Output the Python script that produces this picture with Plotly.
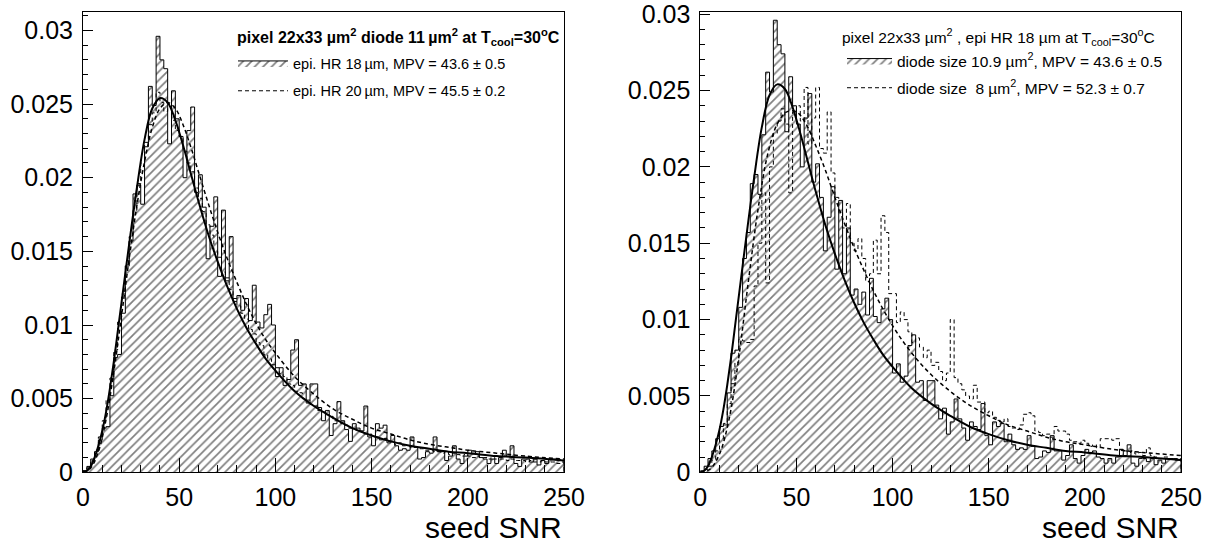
import numpy as np
import plotly.graph_objects as go

# ---------------- data ----------------
bin_width = 2.0  # seed SNR bin width, 125 bins over 0..250

# epi HR 18 um, diode 10.9/11 um^2 (same histogram in both panels)
h18 = [0.0001, 0.0004, 0.0009, 0.0014, 0.0022, 0.0030, 0.0031, 0.0052, 0.0078, 0.0080,
       0.0108, 0.0140, 0.0157, 0.0189, 0.0195, 0.0182, 0.0221, 0.0262, 0.0249, 0.0296,
       0.0280, 0.0274, 0.0223, 0.0259, 0.0240, 0.0228, 0.0200, 0.0232, 0.0248, 0.0190,
       0.0202, 0.0180, 0.0145, 0.0167, 0.0187, 0.0133, 0.0178, 0.0130, 0.0160, 0.0116,
       0.0120, 0.0110, 0.0118, 0.0103, 0.0127, 0.0102, 0.0098, 0.0107, 0.0114, 0.0100,
       0.0065, 0.0071, 0.0059, 0.0063, 0.0083, 0.0090, 0.0059, 0.0060, 0.0047, 0.0060,
       0.0060, 0.0044, 0.0035, 0.0042, 0.0025, 0.0033, 0.0048, 0.0035, 0.0029, 0.0021,
       0.0033, 0.0030, 0.0028, 0.0045, 0.0024, 0.0018, 0.0033, 0.0030, 0.0032, 0.0020,
       0.0025, 0.0018, 0.0015, 0.0016, 0.0015, 0.0024, 0.0017, 0.0009, 0.0010, 0.0014,
       0.0013, 0.0024, 0.0014, 0.0014, 0.0008, 0.0011, 0.0018, 0.0009, 0.0006, 0.0011,
       0.0015, 0.0013, 0.0014, 0.0010, 0.0009, 0.0006, 0.0009, 0.0006, 0.0010, 0.0015,
       0.0011, 0.0018, 0.0006, 0.0004, 0.0009, 0.0009, 0.0007, 0.0009, 0.0005, 0.0008,
       0.0006, 0.0009, 0.0009, 0.0009, 0.0008]

# epi HR 20 um (left panel, dashed)
h20 = [0.0001, 0.0003, 0.0008, 0.0015, 0.0024, 0.0035, 0.0049, 0.0064, 0.0083, 0.0102,
       0.0121, 0.0141, 0.0160, 0.0178, 0.0196, 0.0210, 0.0224, 0.0236, 0.0244, 0.0258,
       0.0251, 0.0245, 0.0247, 0.0239, 0.0232, 0.0228, 0.0218, 0.0210, 0.0204, 0.0193,
       0.0186, 0.0177, 0.0168, 0.0161, 0.0150, 0.0146, 0.0136, 0.0132, 0.0124, 0.0118,
       0.0113, 0.0108, 0.0104, 0.0097, 0.0094, 0.0088, 0.0086, 0.0080, 0.0077, 0.0073,
       0.0071, 0.0067, 0.0065, 0.0060, 0.0059, 0.0055, 0.0054, 0.0050, 0.0049, 0.0046,
       0.0045, 0.0042, 0.0041, 0.0039, 0.0038, 0.0035, 0.0035, 0.0033, 0.0032, 0.0030,
       0.0030, 0.0028, 0.0028, 0.0026, 0.0026, 0.0024, 0.0024, 0.0022, 0.0023, 0.0021,
       0.0021, 0.0019, 0.0020, 0.0018, 0.0018, 0.0017, 0.0017, 0.0016, 0.0016, 0.0015,
       0.0015, 0.0014, 0.0014, 0.0013, 0.0014, 0.0012, 0.0013, 0.0012, 0.0011, 0.0012,
       0.0011, 0.0010, 0.0011, 0.0010, 0.0010, 0.0009, 0.0010, 0.0009, 0.0009, 0.0009,
       0.0008, 0.0009, 0.0008, 0.0008, 0.0008, 0.0007, 0.0008, 0.0007, 0.0007, 0.0008,
       0.0007, 0.0007, 0.0007, 0.0006, 0.0007]

# diode 8 um^2 (right panel, dashed)
h8 = [0.0000, 0.0002, 0.0004, 0.0008, 0.0014, 0.0022, 0.0032, 0.0045, 0.0058, 0.0072,
      0.0087, 0.0086, 0.0085, 0.0087, 0.0122, 0.0150, 0.0183, 0.0124, 0.0200, 0.0222,
      0.0230, 0.0238, 0.0228, 0.0183, 0.0236, 0.0240, 0.0230, 0.0252, 0.0215, 0.0232,
      0.0252, 0.0212, 0.0209, 0.0236, 0.0196, 0.0180, 0.0170, 0.0160, 0.0176, 0.0150,
      0.0145, 0.0153, 0.0140, 0.0125, 0.0130, 0.0152, 0.0130, 0.0168, 0.0157, 0.0117,
      0.0117, 0.0098, 0.0105, 0.0100, 0.0092, 0.0085, 0.0088, 0.0082, 0.0075, 0.0080,
      0.0070, 0.0072, 0.0066, 0.0060, 0.0065, 0.0100, 0.0062, 0.0058, 0.0054, 0.0050,
      0.0048, 0.0057, 0.0046, 0.0046, 0.0039, 0.0040, 0.0036, 0.0034, 0.0033, 0.0035,
      0.0030, 0.0029, 0.0028, 0.0031, 0.0038, 0.0039, 0.0037, 0.0027, 0.0026, 0.0024,
      0.0025, 0.0023, 0.0030, 0.0027, 0.0027, 0.0025, 0.0021, 0.0020, 0.0019, 0.0021,
      0.0019, 0.0017, 0.0018, 0.0016, 0.0022, 0.0022, 0.0022, 0.0021, 0.0022, 0.0015,
      0.0014, 0.0013, 0.0014, 0.0012, 0.0013, 0.0011, 0.0016, 0.0011, 0.0010, 0.0009,
      0.0010, 0.0010, 0.0009, 0.0008, 0.0009]

# fitted curves
fit18_x = [0, 2, 4, 6, 8, 10, 12, 14, 16, 18, 20, 24, 28, 32, 36, 40, 44, 48, 52, 56, 60,
           65, 70, 75, 80, 85, 90, 95, 100, 110, 120, 130, 140, 150, 160, 170, 180, 190,
           200, 215, 230, 250]
fit18_y = [0.0000, 0.0001, 0.0004, 0.0010, 0.0018, 0.0028, 0.0041, 0.0057, 0.0075, 0.0095,
           0.0115, 0.0155, 0.0193, 0.0226, 0.0247, 0.0254, 0.0251, 0.0239, 0.0222, 0.0203,
           0.0184, 0.0162, 0.0143, 0.0126, 0.0111, 0.0098, 0.0087, 0.0077, 0.0069, 0.0055,
           0.0045, 0.0037, 0.0030, 0.0025, 0.0021, 0.0018, 0.0016, 0.0014, 0.0013, 0.0011,
           0.0010, 0.0008]

fit20_x = [0, 4, 8, 12, 16, 20, 24, 28, 32, 36, 40, 44, 48, 52, 56, 60, 65, 70, 75, 80, 85,
           90, 95, 100, 110, 120, 130, 140, 150, 160, 170, 180, 190, 200, 215, 230, 250]
fit20_y = [0.0000, 0.0003, 0.0014, 0.0036, 0.0068, 0.0106, 0.0145, 0.0181, 0.0211, 0.0234,
           0.0247, 0.0251, 0.0247, 0.0236, 0.0221, 0.0204, 0.0183, 0.0163, 0.0145, 0.0129,
           0.0114, 0.0101, 0.0090, 0.0081, 0.0065, 0.0053, 0.0043, 0.0036, 0.0030, 0.0026,
           0.0022, 0.0019, 0.0017, 0.0015, 0.0013, 0.0011, 0.0009]

fit8_x = [0, 5, 10, 15, 20, 25, 30, 35, 40, 45, 50, 55, 60, 65, 70, 75, 80, 90, 100, 110,
          120, 130, 140, 150, 160, 170, 180, 190, 200, 215, 230, 250]
fit8_y = [0.0000, 0.0002, 0.0012, 0.0035, 0.0075, 0.0125, 0.0172, 0.0208, 0.0228, 0.0236,
          0.0236, 0.0228, 0.0214, 0.0198, 0.0180, 0.0163, 0.0147, 0.0119, 0.0096, 0.0078,
          0.0064, 0.0053, 0.0044, 0.0037, 0.0031, 0.0027, 0.0023, 0.0020, 0.0018, 0.0015,
          0.0013, 0.0011]

x_tick_vals = [0, 50, 100, 150, 200, 250]
x_tick_text = ["0", "50", "100", "150", "200", "250"]
y_tick_vals = [0, 0.005, 0.01, 0.015, 0.02, 0.025, 0.03]
y_tick_text = ["0", "0.005", "0.01", "0.015", "0.02", "0.025", "0.03"]

left_title = "<b>pixel 22x33 \u00b5m<sup>2</sup> diode 11\u2009\u00b5m<sup>2</sup> at T<sub>cool</sub>=30<sup>o</sup>C</b>"
left_names = ["epi. HR 18\u2009\u00b5m, MPV = 43.6 \u00b1 0.5", "epi. HR 20\u2009\u00b5m, MPV = 45.5 \u00b1 0.2"]
right_title = "pixel 22x33 \u00b5m<sup>2</sup> , epi HR 18 \u00b5m at T<sub>cool</sub>=30<sup>o</sup>C"
right_names = ["diode size 10.9 \u00b5m<sup>2</sup>, MPV = 43.6 \u00b1 0.5",
               "diode size \u00a08 \u00b5m<sup>2</sup>, MPV = 52.3 \u00b1 0.7"]
x_title = "seed SNR"


def step_xy(vals):
    edges = np.arange(len(vals) + 1) * bin_width
    xs = [edges[0]] + list(edges[:-1]) + [edges[-1], edges[-1]]
    ys = [0.0] + list(vals) + [vals[-1], 0.0]
    return xs, ys


FONT = "Liberation Sans, Arial, Helvetica, sans-serif"
W, H = 1214, 547
hatch = dict(shape="/", size=6, solidity=0.28, fgcolor="black", bgcolor="white", fillmode="overlay")
DASH = "4px,3px"

fig = go.Figure()

# ---------- left panel ----------
x, y = step_xy(h18)
fig.add_trace(go.Scatter(x=x, y=y, mode="lines", line=dict(shape="hv", color="black", width=1),
                         fill="tozeroy", fillcolor="rgba(255,255,255,0)", fillpattern=hatch,
                         name=left_names[0], legend="legend", legendgroup="a",
                         xaxis="x", yaxis="y"))
x, y = step_xy(h20)
fig.add_trace(go.Scatter(x=x, y=y, mode="lines", line=dict(shape="hv", color="black", width=1, dash=DASH),
                         name=left_names[1], legend="legend", legendgroup="b",
                         xaxis="x", yaxis="y"))
fig.add_trace(go.Scatter(x=fit20_x, y=fit20_y, mode="lines",
                         line=dict(shape="spline", color="black", width=1.5, dash=DASH),
                         showlegend=False, xaxis="x", yaxis="y"))
fig.add_trace(go.Scatter(x=fit18_x, y=fit18_y, mode="lines",
                         line=dict(shape="spline", color="black", width=2),
                         showlegend=False, xaxis="x", yaxis="y"))

# ---------- right panel ----------
x, y = step_xy(h18)
fig.add_trace(go.Scatter(x=x, y=y, mode="lines", line=dict(shape="hv", color="black", width=1),
                         fill="tozeroy", fillcolor="rgba(255,255,255,0)", fillpattern=hatch,
                         name=right_names[0], legend="legend2", legendgroup="c",
                         xaxis="x2", yaxis="y2"))
x, y = step_xy(h8)
fig.add_trace(go.Scatter(x=x, y=y, mode="lines", line=dict(shape="hv", color="black", width=1, dash=DASH),
                         name=right_names[1], legend="legend2", legendgroup="d",
                         xaxis="x2", yaxis="y2"))
fig.add_trace(go.Scatter(x=fit8_x, y=fit8_y, mode="lines",
                         line=dict(shape="spline", color="black", width=1.5, dash=DASH),
                         showlegend=False, xaxis="x2", yaxis="y2"))
fig.add_trace(go.Scatter(x=fit18_x, y=fit18_y, mode="lines",
                         line=dict(shape="spline", color="black", width=2),
                         showlegend=False, xaxis="x2", yaxis="y2"))


def xax(domain, anchor):
    return dict(domain=domain, anchor=anchor, range=[0, 250], showgrid=False, zeroline=False,
                automargin=False, showline=True, linecolor="black", linewidth=1, mirror=True,
                ticks="inside", ticklen=14, tickwidth=1, tickcolor="black",
                tickvals=x_tick_vals, ticktext=x_tick_text, ticklabelstandoff=3,
                ticklabeloverflow="allow",
                minor=dict(ticks="inside", ticklen=7, dtick=10, tickcolor="black", showgrid=False),
                tickfont=dict(family=FONT, size=25, color="black"))


def yax(domain, anchor, top):
    return dict(domain=domain, anchor=anchor, range=[0, top], showgrid=False, zeroline=False,
                automargin=False, showline=True, linecolor="black", linewidth=1, mirror=True,
                ticks="inside", ticklen=10, tickwidth=1, tickcolor="black",
                tickvals=y_tick_vals, ticktext=y_tick_text, ticklabelstandoff=4,
                ticklabeloverflow="allow",
                minor=dict(ticks="inside", ticklen=5, dtick=0.001, tickcolor="black", showgrid=False),
                tickfont=dict(family=FONT, size=25, color="black"))


ybot = 1 - 472.3 / H
fig.update_layout(
    template="none",
    width=W, height=H, autosize=False,
    margin=dict(l=0, r=0, t=0, b=0, pad=0),
    paper_bgcolor="white", plot_bgcolor="white",
    font=dict(family=FONT, color="black"),
    xaxis=xax([83 / W, 564 / W], "y"),
    yaxis=yax([ybot, 1 - 11.7 / H], "x", 0.03127),
    xaxis2=xax([700.3 / W, 1181 / W], "y2"),
    yaxis2=yax([ybot, 1 - 12.3 / H], "x2", 0.03012),
    legend=dict(x=233 / W, xanchor="left", y=1 - 47 / H, yanchor="top",
                bgcolor="rgba(0,0,0,0)", borderwidth=0, itemwidth=50, tracegroupgap=6,
                traceorder="grouped", font=dict(family=FONT, size=14.5, color="black")),
    legend2=dict(x=842 / W, xanchor="left", y=1 - 44 / H, yanchor="top",
                 bgcolor="rgba(0,0,0,0)", borderwidth=0, itemwidth=45, tracegroupgap=4,
                 traceorder="grouped", font=dict(family=FONT, size=15.5, color="black")),
    annotations=[
        dict(text=left_title, x=235 / W, xref="paper", xanchor="left", y=1 - 37 / H, yref="paper",
             yanchor="middle", showarrow=False, font=dict(family=FONT, size=16, color="black")),
        dict(text=right_title, x=840 / W, xref="paper", xanchor="left", y=1 - 37 / H, yref="paper",
             yanchor="middle", showarrow=False, font=dict(family=FONT, size=15.5, color="black")),
        dict(text=x_title, x=564 / W, xref="paper", xanchor="right", y=1 - 527 / H, yref="paper",
             yanchor="middle", showarrow=False, font=dict(family=FONT, size=30, color="black")),
        dict(text=x_title, x=1181 / W, xref="paper", xanchor="right", y=1 - 527 / H, yref="paper",
             yanchor="middle", showarrow=False, font=dict(family=FONT, size=30, color="black")),
    ],
)

fig.write_html("out.html", config={"displayModeBar": False},
               post_script="document.body.style.margin='0';document.body.style.overflow='hidden';")
